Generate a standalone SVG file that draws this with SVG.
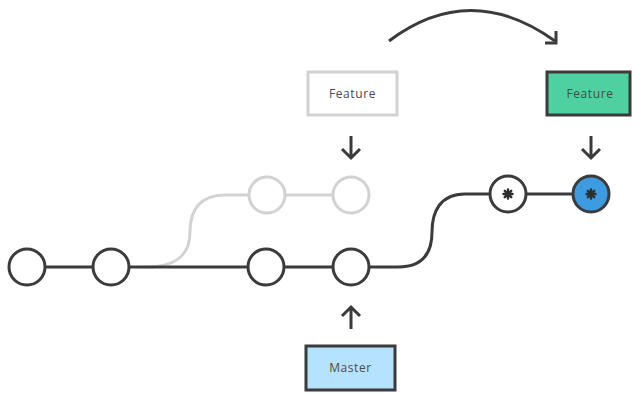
<svg xmlns="http://www.w3.org/2000/svg" width="632" height="394" viewBox="0 0 632 394">
<style>
.ln{fill:none;stroke:#3b3b3b;stroke-width:3;stroke-linecap:round}
.gl{fill:none;stroke:#d2d2d2;stroke-width:3}
.c{fill:#fff;stroke:#3b3b3b;stroke-width:3}
.gc{fill:#fff;stroke:#d2d2d2;stroke-width:3}
.t{font-family:"Open Sans","Liberation Sans",sans-serif;font-size:12px;fill:#4a4a4a;text-anchor:middle;letter-spacing:0.6px}
.ar{fill:none;stroke:#3b3b3b;stroke-width:3;stroke-linecap:butt;stroke-linejoin:miter}
.st{stroke:#2e2e2e;stroke-width:2.4;stroke-linecap:round}
</style>
<rect width="632" height="394" fill="#fff"/>
<g id="connectors">
  <path class="gl" d="M145 267 C180 267 190 252 190 232 C190 210 200 195 225 195 H249"/>
  <path class="gl" d="M285 195 H333"/>
  <path class="ln" d="M45 267 H93 M129 267 H248 M284 267 H333"/>
  <path class="ln" d="M369 267 H398 C424 267 432 252 432 232 C432 212 440 194 465 194 H490"/>
  <path class="ln" d="M526 194 H572"/>
  <path class="ar" d="M351 136 V158 M342 149 L351 158 L360 149"/>
  <path class="ar" d="M591 136 V158 M582 149 L591 158 L600 149"/>
  <path class="ar" d="M351 329 V307 M342 316 L351 307 L360 316"/>
  <path class="ar" d="M389 41 Q470 -20 555 41"/>
  <path class="ar" d="M545 43 H556 V31"/>
</g>
<g id="c1"><circle class="c" cx="27" cy="267" r="18"/></g>
<g id="c2"><circle class="c" cx="111" cy="267" r="18"/></g>
<g id="c3"><circle class="c" cx="266" cy="267" r="18"/></g>
<g id="c4"><circle class="c" cx="351" cy="267" r="18"/></g>
<g id="g1"><circle class="gc" cx="267" cy="195" r="18"/></g>
<g id="g2"><circle class="gc" cx="351" cy="195" r="18"/></g>
<g id="n1"><circle class="c" cx="508" cy="194" r="18"/>
  <path class="st" d="M508 189.5 V198.5 M503.5 194 H512.5 M504.8 190.8 L511.2 197.2 M511.2 190.8 L504.8 197.2"/></g>
<g id="n2"><circle cx="591" cy="194" r="18" fill="#3d9be0" stroke="#3b3b3b" stroke-width="3"/>
  <path class="st" d="M591 189.5 V198.5 M586.5 194 H595.5 M587.8 190.8 L594.2 197.2 M594.2 190.8 L587.8 197.2"/></g>
<g id="featureOld"><rect x="308" y="72" width="89" height="43" fill="#fff" stroke="#d2d2d2" stroke-width="3"/>
  <text class="t" x="352.5" y="98">Feature</text></g>
<g id="featureNew"><rect x="547" y="72" width="83" height="43" fill="#4fd0a0" stroke="#3b3b3b" stroke-width="3"/>
  <text class="t" x="590" y="98">Feature</text></g>
<g id="master"><rect x="306" y="346" width="89" height="44" fill="#b5e2fe" stroke="#3b3b3b" stroke-width="3"/>
  <text class="t" x="350.5" y="372">Master</text></g>
</svg>
